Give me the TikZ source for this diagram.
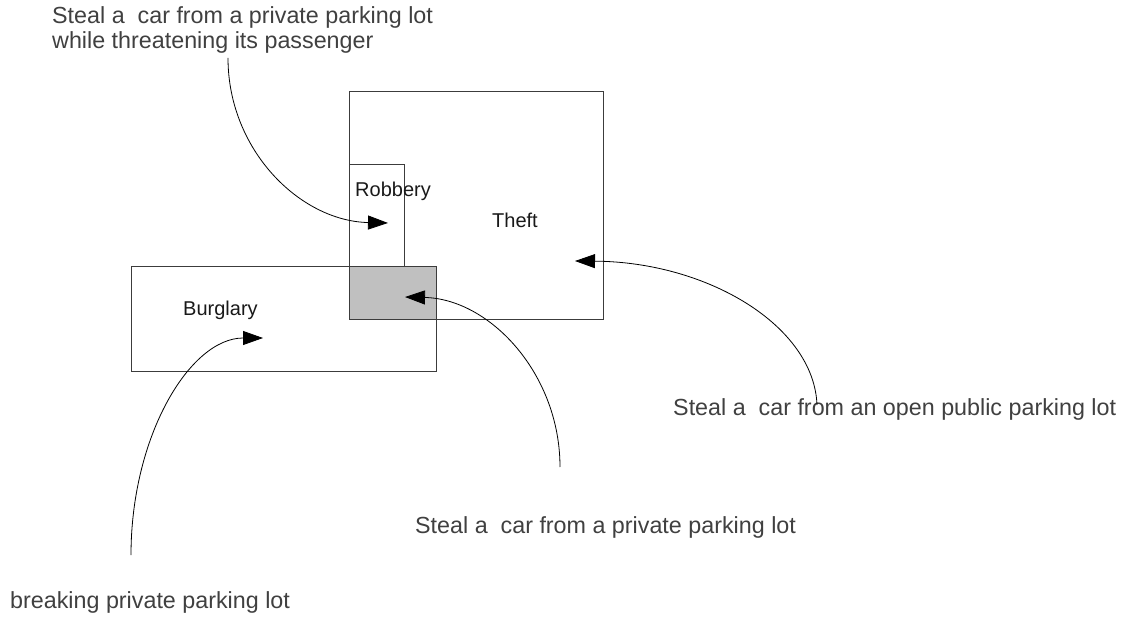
\documentclass[tikz,border=0pt]{standalone}
\usepackage{fontspec}
\setmainfont{Liberation Sans}
\usetikzlibrary{arrows.meta}

\definecolor{edge}{HTML}{3C3C3C}
\definecolor{notetext}{HTML}{404040}
\definecolor{overlap}{HTML}{C0C0C0}

\tikzset{
  region/.style={draw=edge, line width=0.9pt, inner sep=0pt, outer sep=0pt},
  regionlabel/.style={font=\fontsize{20}{22}\selectfont, text=black!90, inner sep=0pt, anchor=base west},
  note/.style={font=\fontsize{23.3}{25}\selectfont, text=notetext, inner sep=0pt, anchor=base west, align=left},
  link/.style={draw=black, line width=0.8pt, -{Triangle[length=20pt, width=14pt]}}
}

\begin{document}
\begin{tikzpicture}[x=1pt, y=-1pt]
  \useasboundingbox (0,0) rectangle (1126,617);

  % shared part of Theft and Burglary
  \node[region, fill=overlap, minimum width=87pt, minimum height=53pt] (both) at (392.5,292.5) {};

  % the three offence regions
  \node[region, minimum width=254pt, minimum height=228pt] (theft)    at (476,205)   {};
  \node[region, minimum width=55pt,  minimum height=102pt] (robbery)  at (376.5,215) {};
  \node[region, minimum width=305pt, minimum height=105pt] (burglary) at (283.5,318.5) {};

  \node[regionlabel] (theftlbl)    at (492,228) {Theft};
  \node[regionlabel] (robberylbl)  at (355,197) {Robbery};
  \node[regionlabel] (burglarylbl) at (183,316) {Burglary};

  % example cases (a two-line node sits on the baseline of its last line)
  \node[note] (caseR) at (52,49) {Steal a \ car from a private parking lot\\while threatening its passenger};
  \node[note] (caseP) at (415,533) {Steal a \ car from a private parking lot};
  \node[note] (caseO) at (673,415) {Steal a \ car from an open public parking lot};
  \node[note] (caseB) at (10,608) {breaking private parking lot};

  % where each case falls
  \coordinate (sR) at (228,58);   \coordinate (tR) at (388,223);
  \coordinate (sP) at (560,467);  \coordinate (tP) at (405,297);
  \coordinate (sO) at (817,405);  \coordinate (tO) at (575,261);
  \coordinate (sB) at (131,555);  \coordinate (tB) at (263,338);

  \draw[link] (sR) .. controls (228,150) and (300,221) .. (tR);
  \draw[link] (sP) .. controls (560,374) and (490,299) .. (tP);
  \draw[link] (sO) .. controls (814,326) and (708,262) .. (tO);
  \draw[link] (sB) .. controls (131,436) and (190,338) .. (tB);
\end{tikzpicture}
\end{document}
